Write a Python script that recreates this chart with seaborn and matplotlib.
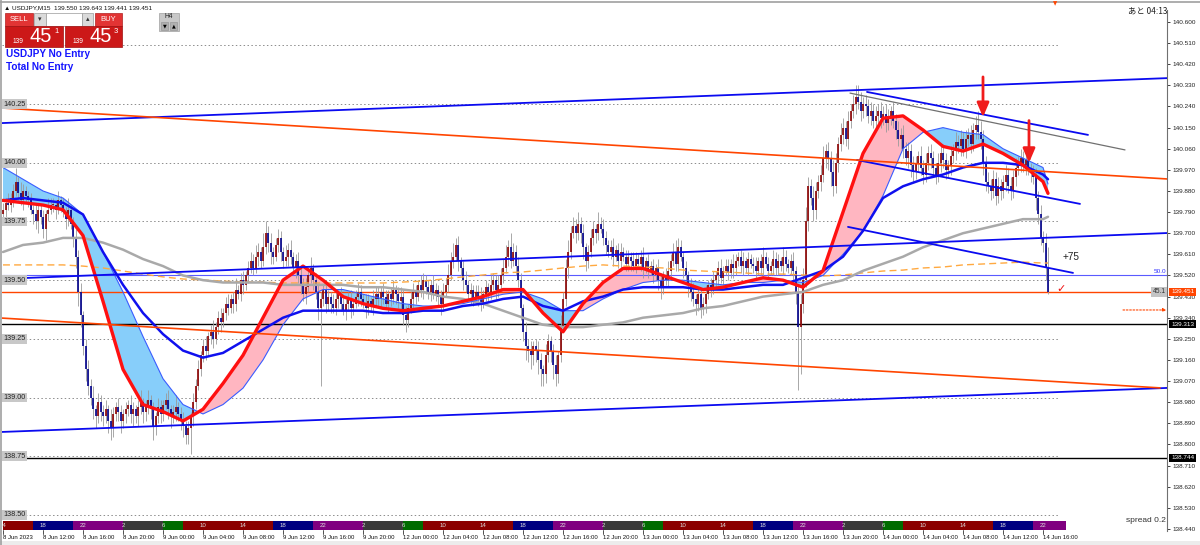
import numpy as np
import pandas as pd
import matplotlib
matplotlib.use("Agg")
import matplotlib.pyplot as plt
from matplotlib.patches import Rectangle
from matplotlib.lines import Line2D
import matplotlib.transforms as mtransforms
import seaborn as sns

# ---------------- data ----------------
symbol_line = "USDJPY,M15  139.550 139.643 139.441 139.451"
first_open = 139.78

closes = [
    139.80, 139.83, 139.82, 139.85, 139.88, 139.92, 139.87, 139.84, 139.88, 139.86,
    139.84, 139.80, 139.78, 139.75, 139.80, 139.77, 139.72, 139.78, 139.80, 139.82,
    139.82, 139.80, 139.84, 139.82, 139.79, 139.76, 139.80, 139.74, 139.68, 139.60,
    139.45, 139.35, 139.22, 139.12, 139.05, 139.00, 138.95, 138.92, 138.98, 138.94,
    138.92, 138.95, 138.90, 138.87, 138.93, 138.96, 138.94, 138.90, 138.93, 138.95,
    138.97, 138.93, 138.95, 138.92, 138.96, 138.98, 138.94, 138.96, 138.99, 138.95,
    138.88, 138.92, 138.96, 138.93, 138.97, 138.99, 138.95, 138.92, 138.94, 138.96,
    138.93, 138.90, 138.88, 138.84, 138.87, 138.92, 138.98, 139.05, 139.12, 139.18,
    139.22, 139.20, 139.26, 139.28, 139.25, 139.30, 139.34, 139.32, 139.36, 139.40,
    139.38, 139.42, 139.40, 139.46, 139.44, 139.50, 139.48, 139.52, 139.55, 139.58,
    139.55, 139.60, 139.62, 139.58, 139.64, 139.70, 139.66, 139.62, 139.60, 139.65,
    139.68, 139.62, 139.58, 139.60, 139.63, 139.60, 139.55, 139.58, 139.52, 139.48,
    139.44, 139.47, 139.52, 139.55, 139.50, 139.45, 139.38, 139.42, 139.46, 139.40,
    139.43, 139.40, 139.38, 139.42, 139.44, 139.40, 139.37, 139.40, 139.42, 139.38,
    139.40, 139.43, 139.45, 139.42, 139.40, 139.38, 139.41, 139.39, 139.42, 139.44,
    139.42, 139.45, 139.43, 139.40, 139.44, 139.42, 139.46, 139.44, 139.41, 139.43,
    139.35, 139.33, 139.38, 139.42, 139.45, 139.43, 139.48, 139.46, 139.50, 139.47,
    139.45, 139.48, 139.44, 139.46, 139.43, 139.40, 139.45, 139.48, 139.52, 139.58,
    139.60, 139.65, 139.58, 139.55, 139.50, 139.48, 139.44, 139.46, 139.42, 139.45,
    139.43, 139.40, 139.44, 139.47, 139.45, 139.48, 139.50, 139.46, 139.48, 139.52,
    139.55, 139.60, 139.64, 139.58, 139.62, 139.56, 139.50, 139.38, 139.28, 139.22,
    139.20, 139.18, 139.22, 139.20, 139.16, 139.12, 139.10, 139.18, 139.24, 139.20,
    139.14, 139.10, 139.18, 139.30, 139.42, 139.55, 139.62, 139.70, 139.73, 139.70,
    139.74, 139.70, 139.64, 139.58, 139.62, 139.68, 139.72, 139.70, 139.74, 139.72,
    139.68, 139.65, 139.62, 139.64, 139.60, 139.63, 139.58, 139.62, 139.60, 139.57,
    139.60, 139.58, 139.56, 139.59, 139.57, 139.60, 139.55, 139.58, 139.54, 139.56,
    139.52, 139.55, 139.50, 139.47, 139.52, 139.50, 139.54, 139.58, 139.62, 139.57,
    139.64, 139.60, 139.55, 139.52, 139.48, 139.45, 139.42, 139.40, 139.44, 139.38,
    139.40, 139.44, 139.48, 139.46, 139.50, 139.52, 139.55, 139.51, 139.54, 139.56,
    139.53, 139.57, 139.55, 139.58, 139.60, 139.56, 139.58, 139.55, 139.59, 139.57,
    139.56, 139.54, 139.58, 139.55, 139.60, 139.57, 139.54, 139.56, 139.59, 139.55,
    139.58, 139.56, 139.60, 139.57, 139.55, 139.58, 139.54, 139.45, 139.30, 139.40,
    139.50, 139.75, 139.90, 139.85, 139.80, 139.88, 139.92, 139.95, 140.02, 140.05,
    140.02, 139.96, 139.90, 140.00, 140.08, 140.12, 140.15, 140.10, 140.18, 140.22,
    140.25, 140.28, 140.26, 140.22, 140.25, 140.24, 140.20, 140.22, 140.18, 140.20,
    140.22, 140.19, 140.21, 140.17, 140.20, 140.22, 140.18, 140.14, 140.10, 140.12,
    140.06, 140.02, 140.05, 139.99, 139.96, 140.00, 140.03, 139.98, 139.95, 140.00,
    140.04, 140.02, 139.98, 139.95, 140.00, 140.04, 140.01, 139.97, 139.99, 140.03,
    140.05, 140.09, 140.07, 140.10, 140.06, 140.10, 140.12, 140.08, 140.14, 140.16,
    140.13, 140.10, 140.00, 139.92, 139.90, 139.88, 139.93, 139.86, 139.90, 139.88,
    139.92, 139.95, 139.90, 139.88, 139.94, 139.98, 140.00, 140.02, 139.99, 140.01,
    139.98, 139.96, 139.94, 139.85, 139.78, 139.68, 139.66, 139.55, 139.451,
]

# wick lengths above / below the body, in 0.01 yen
up_wick = [
    3, 2, 4, 2, 3, 6, 2, 5, 3, 2,  2, 3, 2, 4, 3, 2, 3, 2, 5, 3,
    3, 2, 4, 2, 3, 2, 5, 2, 3, 4,  3, 4, 2, 3, 4, 3, 5, 2, 4, 3,
    3, 4, 2, 5, 3, 2, 4, 3, 2, 3,  2, 4, 3, 2, 3, 5, 2, 3, 4, 2,
    3, 2, 4, 3, 2, 3, 4, 2, 3, 5,  2, 3, 4, 2, 3, 2, 4, 3, 4, 2,
    3, 4, 2, 3, 5, 2, 3, 4, 2, 3,  4, 2, 3, 5, 2, 3, 4, 2, 3, 4,
    3, 5, 4, 2, 6, 5, 3, 4, 2, 3,  4, 3, 2, 5, 3, 4, 2, 3, 4, 3,
    3, 4, 3, 5, 2, 3, 4, 3, 2, 4,  3, 2, 4, 3, 2, 3, 4, 2, 3, 4,
    2, 3, 4, 3, 2, 4, 3, 2, 4, 3,  3, 2, 4, 3, 2, 3, 4, 2, 3, 4,
    3, 4, 2, 3, 4, 3, 2, 4, 3, 2,  3, 2, 4, 3, 2, 3, 4, 3, 5, 4,
    6, 3, 4, 2, 3, 4, 2, 3, 2, 3,  3, 4, 2, 3, 2, 4, 3, 2, 4, 3,
    4, 5, 3, 6, 4, 3, 4, 3, 2, 4,  3, 4, 2, 3, 4, 3, 2, 5, 3, 2,
    3, 4, 2, 5, 3, 4, 5, 3, 4, 3,  5, 3, 4, 2, 3, 4, 3, 2, 5, 3,
    4, 3, 2, 3, 4, 2, 3, 4, 2, 3,  3, 2, 4, 3, 2, 3, 4, 2, 3, 2,
    3, 2, 4, 3, 2, 3, 4, 3, 4, 5,  4, 3, 2, 3, 2, 3, 4, 2, 3, 2,
    3, 4, 2, 3, 4, 2, 3, 4, 2, 3,  3, 2, 4, 3, 2, 3, 4, 2, 3, 2,
    3, 4, 2, 3, 4, 2, 3, 2, 4, 3,  3, 2, 4, 3, 2, 3, 4, 2, 3, 4,
    5, 6, 4, 3, 5, 4, 3, 4, 5, 3,  4, 3, 5, 4, 3, 5, 4, 3, 4, 3,
    4, 5, 5, 4, 3, 4, 3, 4, 3, 4,  3, 4, 3, 4, 3, 2, 4, 3, 4, 3,
    4, 3, 4, 3, 4, 3, 2, 4, 3, 4,  3, 4, 3, 2, 4, 3, 4, 3, 2, 4,
    3, 4, 3, 4, 3, 4, 3, 4, 3, 4,  6, 5, 4, 3, 4, 3, 4, 3, 4, 3,
    3, 4, 3, 4, 3, 4, 3, 4, 3, 4,  3, 2, 3, 4, 3, 4, 3, 4, 9,
]
dn_wick = [
    3, 4, 2, 3, 4, 2, 3, 2, 4, 3,  3, 2, 4, 3, 5, 3, 4, 5, 3, 2,
    3, 4, 2, 3, 2, 4, 3, 2, 4, 5,  6, 5, 4, 5, 4, 3, 4, 5, 3, 4,
    4, 3, 5, 5, 4, 3, 4, 5, 3, 4,  3, 4, 5, 3, 4, 3, 5, 4, 3, 4,
    6, 4, 3, 4, 3, 2, 4, 5, 3, 4,  3, 4, 5, 4, 4, 11, 4, 3, 2, 3,
    3, 4, 2, 3, 4, 2, 3, 4, 2, 3,  3, 2, 4, 3, 2, 3, 4, 2, 3, 2,
    3, 2, 4, 3, 2, 3, 4, 5, 3, 2,  3, 4, 3, 2, 4, 3, 2, 4, 3, 4,
    3, 4, 2, 3, 4, 3, 5, 33, 3, 4, 3, 4, 2, 3, 4, 3, 2, 4, 3, 4,
    3, 2, 4, 3, 2, 4, 3, 2, 4, 3,  3, 4, 3, 2, 4, 3, 2, 4, 3, 4,
    4, 5, 3, 2, 4, 3, 2, 3, 4, 3,  3, 4, 2, 3, 4, 5, 3, 2, 3, 2,
    3, 2, 4, 3, 4, 3, 2, 4, 3, 2,  4, 3, 2, 3, 4, 3, 2, 4, 3, 2,
    3, 2, 4, 3, 2, 4, 3, 5, 4, 6,  5, 6, 4, 5, 6, 7, 5, 4, 3, 5,
    6, 5, 4, 3, 2, 3, 4, 3, 2, 4,  3, 4, 5, 4, 3, 2, 3, 4, 3, 2,
    3, 4, 2, 3, 4, 2, 3, 4, 2, 3,  3, 4, 2, 3, 2, 3, 4, 2, 3, 2,
    3, 2, 4, 5, 3, 2, 3, 4, 2, 3,  3, 2, 4, 3, 5, 4, 3, 5, 3, 4,
    3, 4, 2, 3, 2, 3, 4, 2, 3, 2,  3, 2, 4, 3, 2, 3, 4, 2, 3, 2,
    3, 4, 2, 3, 4, 2, 3, 2, 4, 3,  3, 2, 4, 3, 2, 3, 4, 5, 27, 20,
    4, 3, 4, 3, 5, 4, 3, 4, 3, 4,  5, 6, 4, 3, 4, 3, 4, 3, 4, 3,
    3, 4, 3, 4, 3, 4, 3, 4, 3, 4,  3, 4, 3, 4, 3, 4, 3, 4, 3, 4,
    4, 3, 4, 5, 4, 3, 4, 3, 4, 3,  3, 4, 3, 4, 3, 4, 3, 4, 3, 4,
    3, 4, 3, 4, 3, 4, 3, 4, 3, 4,  3, 4, 5, 4, 3, 4, 3, 4, 3, 4,
    3, 4, 3, 4, 3, 4, 3, 4, 3, 4,  3, 4, 3, 5, 4, 3, 4, 5, 1,
]

# moving averages, sampled every 8 bars (bar index -> price)
ma_idx = list(range(0, 417, 8)) + [418]
ma_red = [139.84, 139.83, 139.82, 139.80, 139.69, 139.41, 139.12, 138.97, 138.94, 138.90,
          138.95, 139.06, 139.18, 139.34, 139.50, 139.56, 139.50, 139.43, 139.40, 139.38,
          139.37, 139.38, 139.39, 139.41, 139.43, 139.46, 139.46, 139.36, 139.28, 139.40,
          139.49, 139.55, 139.55, 139.52, 139.49, 139.46, 139.47, 139.49, 139.51, 139.50,
          139.47, 139.54, 139.79, 140.04, 140.19, 140.20, 140.14, 140.07, 140.05, 140.08,
          140.04, 139.99, 139.92, 139.87]
ma_band = [139.98, 139.93, 139.88, 139.85, 139.78, 139.62, 139.45, 139.26, 139.08, 138.97,
           138.93, 138.97, 139.04, 139.16, 139.31, 139.42, 139.46, 139.46, 139.44, 139.42,
           139.40, 139.39, 139.39, 139.40, 139.42, 139.44, 139.45, 139.42, 139.37, 139.37,
           139.42, 139.46, 139.49, 139.50, 139.50, 139.49, 139.48, 139.49, 139.49, 139.50,
           139.49, 139.52, 139.61, 139.71, 139.86, 140.06, 140.13, 140.15, 140.13, 140.12,
           140.06, 140.02, 139.98, 139.91]
ma_blue = [139.84, 139.85, 139.84, 139.83, 139.78, 139.62, 139.48, 139.36, 139.27, 139.20,
           139.17, 139.19, 139.24, 139.29, 139.34, 139.37, 139.37, 139.37, 139.37, 139.36,
           139.36, 139.37, 139.37, 139.39, 139.40, 139.42, 139.43, 139.39, 139.37, 139.41,
           139.43, 139.46, 139.47, 139.47, 139.47, 139.46, 139.46, 139.47, 139.48, 139.48,
           139.51, 139.54, 139.60, 139.71, 139.85, 139.90, 139.93, 139.95, 139.98, 140.00,
           140.00, 139.99, 139.95, 139.93]
ma_gray = [139.62, 139.65, 139.66, 139.68, 139.68, 139.66, 139.63, 139.59, 139.56, 139.52,
           139.50, 139.49, 139.49, 139.49, 139.48, 139.48, 139.48, 139.48, 139.47, 139.47,
           139.46, 139.45, 139.43, 139.42, 139.40, 139.37, 139.34, 139.31, 139.30, 139.30,
           139.31, 139.32, 139.34, 139.35, 139.36, 139.38, 139.39, 139.41, 139.43, 139.44,
           139.45, 139.48, 139.50, 139.54, 139.57, 139.60, 139.64, 139.67, 139.70, 139.72,
           139.74, 139.76, 139.76, 139.77]
ma_dash = [139.565, 139.565, 139.565, 139.565, 139.560, 139.552, 139.539, 139.526, 139.514, 139.505,
           139.501, 139.496, 139.492, 139.492, 139.488, 139.488, 139.488, 139.488, 139.488, 139.488,
           139.492, 139.496, 139.505, 139.514, 139.522, 139.531, 139.535, 139.543, 139.552, 139.560,
           139.565, 139.560, 139.556, 139.552, 139.543, 139.539, 139.535, 139.531, 139.526, 139.526,
           139.522, 139.518, 139.522, 139.531, 139.539, 139.543, 139.552, 139.556, 139.565, 139.569,
           139.573, 139.577, 139.573, 139.573]

# dotted price levels; the 140.50 label sits under the trade panel, so it is not shown
level_prices = [140.50, 140.25, 140.00, 139.75, 139.50, 139.25, 139.00, 138.75, 138.50]
level_labels = ["", "140.25", "140.00", "139.75", "139.50", "139.25", "139.00", "138.75", "138.50"]

# trend lines as (bar0, price0, bar1, price1)
trend_blue = [(-1.2, 140.169, 466, 140.361), (-1.2, 138.853, 466, 139.041),
              (-1.2, 139.505, 466, 139.701), (345.6, 140.302, 434, 140.119),
              (341.6, 140.012, 430.8, 139.825), (338, 139.727, 428, 139.531)]
trend_orange = [(-1.2, 140.234, 466, 139.931), (-1.2, 139.339, 462.8, 139.041)]
trend_gray = [(338.8, 140.297, 448.8, 140.055)]

hline_black = [139.313, 138.744]
price_now = 139.451
fibo_50 = 139.52
fibo_arrow = 139.373
down_arrows = [(392, 140.366, 140.195), (410.4, 140.18, 140.00)]

# ---------------- figure ----------------
sns.set_style("white")
plt.rcParams["font.family"] = ["Liberation Sans", "DejaVu Sans"]

W, H = 1200, 545
fig = plt.figure(figsize=(W / 100, H / 100), dpi=100)
fig.patch.set_facecolor("white")


def fx(x):
    return x / W


def fy(y):
    return 1 - y / H


def box(x0, y0, x1, y1, **kw):
    fig.add_artist(Rectangle((fx(x0), fy(y1)), (x1 - x0) / W, (y1 - y0) / H,
                             transform=fig.transFigure, **kw))


ax = fig.add_axes([fx(2), fy(531), fx(1167) - fx(2), fy(10) - fy(531)])
ax.set_xlim(-0.4, 465.6)
ax.set_ylim(138.4313, 140.6511)

# candles
c = np.array(closes)
o = np.concatenate([[first_open], c[:-1]])
x = np.arange(len(c))
top = np.maximum(o, c)
bot = np.minimum(o, c)
hi = top + np.array(up_wick) / 100
lo = bot - np.array(dn_wick) / 100
top = np.maximum(top, bot + 0.004)
bull = c >= o
ax.vlines(x, lo, hi, color="#9a9a9a", lw=0.6, zorder=3)
ax.vlines(x[bull], bot[bull], top[bull], color="#8b0000", lw=1.2, zorder=4)
ax.vlines(x[~bull], bot[~bull], top[~bull], color="#00008b", lw=1.2, zorder=4)

# moving averages and cloud
ma = pd.DataFrame({"bar": ma_idx, "red": ma_red, "band": ma_band,
                   "blue": ma_blue, "gray": ma_gray, "dash": ma_dash})
ax.fill_between(ma["bar"], ma["red"], ma["band"], where=ma["red"] >= ma["band"],
                interpolate=True, color="#ffb6c1", lw=0, zorder=2)
ax.fill_between(ma["bar"], ma["red"], ma["band"], where=ma["red"] < ma["band"],
                interpolate=True, color="#87cefa", lw=0, zorder=2)
ax.plot(ma["bar"], ma["dash"], color="#ffa940", lw=1.0, ls=(0, (5, 3)), zorder=5)
sns.lineplot(data=ma, x="bar", y="gray", ax=ax, color="#a9a9a9", lw=1.8, zorder=5)
sns.lineplot(data=ma, x="bar", y="band", ax=ax, color="#3a5cff", lw=0.8, zorder=5)
sns.lineplot(data=ma, x="bar", y="blue", ax=ax, color="#1010ee", lw=1.8, zorder=6)
sns.lineplot(data=ma, x="bar", y="red", ax=ax, color="#ff1010", lw=2.4, zorder=7)
ax.set_xlabel("")
ax.set_ylabel("")

# grid levels with labels on the left
for p, lab in zip(level_prices, level_labels):
    ax.hlines(p, -0.4, 422, color="#8c8c8c", lw=0.7, ls=(0, (1.5, 2.5)), zorder=1)
    if lab:
        ax.text(0.2, p, lab, fontsize=5.2, color="#222222", ha="left", va="center",
                zorder=12, bbox=dict(boxstyle="square,pad=0.2", fc="#c8c8c8", ec="none"))

# horizontal objects
ax.axhline(fibo_50, color="#5a5aff", lw=0.8, zorder=2)
ax.axhline(price_now, color="#ff4500", lw=1.0, zorder=2)
for p in hline_black:
    ax.axhline(p, color="black", lw=1.0, zorder=2)

# trend lines
for b0, p0, b1, p1 in trend_blue:
    ax.plot([b0, b1], [p0, p1], color="#0a0af0", lw=1.3, zorder=8)
for b0, p0, b1, p1 in trend_orange:
    ax.plot([b0, b1], [p0, p1], color="#ff4500", lw=1.2, zorder=8)
for b0, p0, b1, p1 in trend_gray:
    ax.plot([b0, b1], [p0, p1], color="#707070", lw=0.9, zorder=8)

# arrows and notes
for b, p0, p1 in down_arrows:
    ax.annotate("", xy=(b, p1), xytext=(b, p0), zorder=11,
                arrowprops=dict(arrowstyle="-|>,head_width=0.3,head_length=0.7",
                                color="#f01c1c", lw=2.0, shrinkA=0, shrinkB=0,
                                mutation_scale=12))
ax.annotate("", xy=(465.4, fibo_arrow), xytext=(448, fibo_arrow), zorder=11,
            arrowprops=dict(arrowstyle="-|>", ls=(0, (1.5, 1.5)), color="#ff4500",
                            lw=0.8, shrinkA=0, shrinkB=0, mutation_scale=5))
ax.text(424, 139.60, "+75", fontsize=7.2, color="#222222", ha="left", va="center", zorder=11)
ax.text(421.5, 139.462, "\u2713", fontsize=8, color="#ee1111", ha="left", va="center",
        zorder=11, family=["DejaVu Sans"])
ax.text(465, price_now, "45.1", fontsize=4.8, color="#333333", ha="right", va="center",
        zorder=12, bbox=dict(boxstyle="square,pad=0.2", fc="#c4c4c4", ec="none"))
ax.text(465.2, 139.535, "50.0", fontsize=4.6, color="#3030ff", ha="right", va="center",
        zorder=12)

# right price scale
ticks = np.round(140.6 - 0.09 * np.arange(25), 3)
ax.yaxis.tick_right()
ax.set_yticks(ticks)
ax.set_yticklabels([f"{t:.3f}" for t in ticks])
ax.set_xticks([])
ax.tick_params(axis="y", right=True, left=False, labelright=True, labelleft=False,
               length=2.5, width=0.6, pad=1.5, labelsize=4.6, colors="#222222")
for s in ["top", "left", "bottom"]:
    ax.spines[s].set_visible(False)
ax.spines["right"].set_color("#707070")
ax.spines["right"].set_linewidth(0.8)

ytr = mtransforms.blended_transform_factory(ax.transAxes, ax.transData)
for p, fc in [(price_now, "#ff4500"), (hline_black[0], "black"), (hline_black[1], "black")]:
    ax.text(1.0035, p, f"{p:.3f}", transform=ytr, fontsize=4.6, color="white",
            ha="left", va="center", zorder=20, clip_on=False,
            bbox=dict(boxstyle="square,pad=0.25", fc=fc, ec="none"))

# session bar + time axis
times = pd.date_range("2023-06-08 08:00", "2023-06-09 23:45", freq="15min").append(
    pd.date_range("2023-06-12 00:00", periods=265, freq="15min"))
jst = (times.hour + 6) % 24


def session_color(h):
    if 8 <= h < 17:
        return "#8b0000"
    if 17 <= h < 21:
        return "#000080"
    if h >= 21 or h < 2:
        return "#800080"
    if 2 <= h < 6:
        return "#3a3a3a"
    return "#006b00"


ax_s = fig.add_axes([fx(2), fy(530), fx(1167) - fx(2), 9 / H])
ax_s.set_xlim(-0.4, 465.6)
ax_s.set_ylim(0, 1)
ax_s.bar(np.arange(len(times)), 1, width=1.0, align="edge",
         color=[session_color(h) for h in jst], lw=0)
ax_s.axis("off")
for i in range(0, len(closes), 16):
    t = times[i]
    ax_s.text(i, 0.5, str(jst[i]), fontsize=4.4, color="#dcdcdc", ha="center",
              va="center", clip_on=True)
    lab = "8 Jun 2023" if i == 0 else f"{t.day} Jun {t:%H:%M}"
    ax_s.plot([i, i], [0, -0.4], color="#333333", lw=0.6, clip_on=False)
    ax_s.text(i - 0.1, -0.78, lab, fontsize=4.3, color="#111111", ha="left",
              va="center", clip_on=False)

# ---------------- window decorations ----------------
fig.add_artist(Line2D([0, 1], [fy(1.5), fy(1.5)], color="#a0a0a0", lw=1.2))
fig.add_artist(Line2D([fx(1), fx(1)], [0, 1], color="#a0a0a0", lw=1.2))
box(0, 541, 1200, 545, fc="#ececec", ec="none")
fig.text(fx(4), fy(7.5), "\u25b2 " + symbol_line, fontsize=4.6, color="#111111", va="center")
fig.text(fx(1168), fy(11), "あと 04:13", fontsize=6, color="#222222", ha="right",
         va="center", family=["Noto Sans CJK JP", "DejaVu Sans"])
fig.text(fx(1055), fy(3.5), "\u25bc", fontsize=4, color="#ff4500", ha="center", va="center",
         family=["DejaVu Sans"])
fig.text(fx(1166), fy(521), "spread 0.2", fontsize=6, color="#333333", ha="right", va="center")

# one-click trading panel
box(5, 13, 33, 26, fc="#e23434", ec="#b02020", lw=0.5)
box(34, 13, 46, 26, fc="#dadada", ec="#9a9a9a", lw=0.5)
box(46, 13, 82, 26, fc="white", ec="#9a9a9a", lw=0.5)
box(82, 13, 93, 26, fc="#dadada", ec="#9a9a9a", lw=0.5)
box(95, 13, 122, 26, fc="#e23434", ec="#b02020", lw=0.5)
box(5, 26, 63, 47, fc="#cc1818", ec="#a01010", lw=0.5)
box(65, 26, 122, 47, fc="#cc1818", ec="#a01010", lw=0.5)
fig.text(fx(19), fy(19.5), "SELL", fontsize=5.5, color="white", ha="center", va="center")
fig.text(fx(108.5), fy(19.5), "BUY", fontsize=5.5, color="white", ha="center", va="center")
fig.text(fx(40), fy(19.5), "\u25be", fontsize=5, color="#333333", ha="center", va="center",
         family=["DejaVu Sans"])
fig.text(fx(87.5), fy(19.5), "\u25b4", fontsize=5, color="#333333", ha="center", va="center",
         family=["DejaVu Sans"])
for x0, big, small in [(13, "45", "1"), (73, "45", "3")]:
    fig.text(fx(x0), fy(41.5), "139", fontsize=4.8, color="white", ha="left", va="center")
    fig.text(fx(x0 + 16), fy(37), big, fontsize=14.5, color="white", ha="left", va="center")
    fig.text(fx(x0 + 41), fy(31.5), small, fontsize=5.5, color="white", ha="left", va="center")

box(159, 13, 179, 31, fc="#c8c8c8", ec="#a0a0a0", lw=0.5)
box(161, 22, 168, 30, fc="#b0b0b0", ec="#909090", lw=0.4)
box(170, 22, 177, 30, fc="#b0b0b0", ec="#909090", lw=0.4)
fig.text(fx(169), fy(17), "H4", fontsize=4.8, color="#222222", ha="center", va="center")
fig.text(fx(164.5), fy(26), "\u25bc", fontsize=3.5, color="black", ha="center", va="center",
         family=["DejaVu Sans"])
fig.text(fx(173.5), fy(26), "\u25b2", fontsize=3.5, color="black", ha="center", va="center",
         family=["DejaVu Sans"])

fig.text(fx(6), fy(54), "USDJPY No Entry", fontsize=7.2, fontweight="bold", color="#1414ff",
         va="center")
fig.text(fx(6), fy(67), "Total No Entry", fontsize=7.2, fontweight="bold", color="#1414ff",
         va="center")

fig.savefig("out.png", dpi=100)
